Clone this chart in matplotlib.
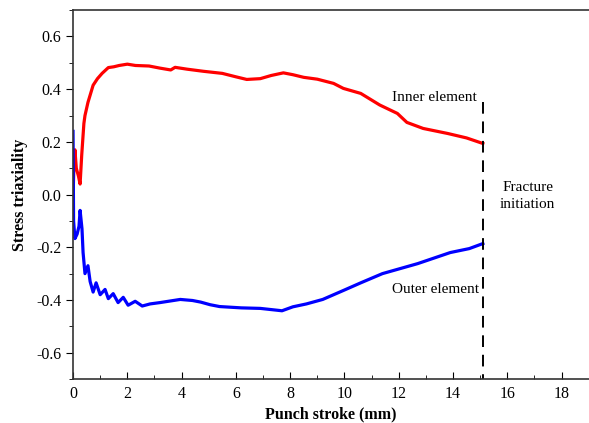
import matplotlib
matplotlib.use("Agg")
import matplotlib.pyplot as plt
from matplotlib.ticker import MultipleLocator

plt.rcParams["font.family"] = ["Liberation Serif", "DejaVu Serif"]

# stress triaxiality vs punch stroke
inner_x = [0.0, 0.03, 0.07, 0.12, 0.2, 0.26, 0.32, 0.4, 0.44, 0.55, 0.74, 0.9,
           1.07, 1.3, 1.5, 1.7, 2.0, 2.3, 2.8, 3.2, 3.6, 3.76, 4.2, 4.8, 5.5,
           6.0, 6.4, 6.9, 7.3, 7.75, 8.1, 8.5, 9.0, 9.6, 9.96, 10.6, 11.3,
           11.95, 12.3, 12.9, 13.8, 14.5, 15.1]
inner_y = [-0.01, 0.1, 0.17, 0.1, 0.07, 0.04, 0.15, 0.27, 0.30, 0.35, 0.415, 0.44,
           0.46, 0.482, 0.485, 0.49, 0.495, 0.49, 0.488, 0.48, 0.473, 0.483, 0.476,
           0.468, 0.46, 0.447, 0.437, 0.44, 0.452, 0.462, 0.455, 0.445, 0.438,
           0.422, 0.403, 0.384, 0.34, 0.308, 0.274, 0.251, 0.232, 0.215, 0.194]

outer_x = [0.0, 0.02, 0.07, 0.15, 0.22, 0.26, 0.33, 0.37, 0.44, 0.55, 0.63, 0.74,
           0.85, 1.0, 1.18, 1.3, 1.48, 1.66, 1.85, 2.03, 2.29, 2.55, 2.84, 3.2,
           3.95, 4.4, 4.7, 5.05, 5.4, 6.2, 6.9, 7.7, 8.1, 8.6, 9.2, 9.96, 10.6,
           11.4, 12.7, 13.9, 14.6, 15.1]
outer_y = [0.24, -0.1, -0.167, -0.15, -0.12, -0.06, -0.13, -0.22, -0.30, -0.27,
           -0.33, -0.37, -0.335, -0.38, -0.36, -0.395, -0.376, -0.41, -0.39, -0.42,
           -0.405, -0.423, -0.415, -0.41, -0.398, -0.402, -0.408, -0.418, -0.425,
           -0.43, -0.432, -0.441, -0.426, -0.415, -0.398, -0.364, -0.335, -0.30,
           -0.262, -0.22, -0.205, -0.186]

fracture_x = 15.1

fig = plt.figure(figsize=(5.89, 4.23), dpi=100)
ax = fig.add_axes([0.124, 0.104, 0.8755, 0.872])

ax.plot(inner_x, inner_y, color="#ff0000", lw=2.3)
ax.plot(outer_x, outer_y, color="#0000ff", lw=2.3)
ax.plot([fracture_x, fracture_x], [0.35, -0.7], color="black", lw=1.4,
        dashes=(6, 4))

ax.text(11.75, 0.37, "Inner element", fontsize=11, va="center", ha="left")
ax.text(11.75, -0.36, "Outer element", fontsize=11, va="center", ha="left")
ax.text(16.75, -0.005, "Fracture\ninitiation", fontsize=11, va="center",
        ha="center", linespacing=1.45)

ax.set_xlim(0, 19)
ax.set_ylim(-0.7, 0.7)
ax.xaxis.set_major_locator(MultipleLocator(2))
ax.xaxis.set_minor_locator(MultipleLocator(1))
ax.yaxis.set_major_locator(MultipleLocator(0.2))
ax.yaxis.set_minor_locator(MultipleLocator(0.1))
ax.set_xticks(range(0, 19, 2))
ax.set_yticks([-0.6, -0.4, -0.2, 0.0, 0.2, 0.4, 0.6])
ax.set_yticklabels(["-0.6", "-0.4", "-0.2", "0.0", "0.2", "0.4", "0.6"])

ax.tick_params(axis="x", which="both", direction="in", labelsize=11.5, pad=5)
ax.tick_params(axis="x", which="major", length=5)
ax.tick_params(axis="x", which="minor", length=3)
ax.tick_params(axis="y", which="both", direction="out", labelsize=11.5)
ax.tick_params(axis="y", which="major", length=5)
ax.tick_params(axis="y", which="minor", length=3)
ax.spines["right"].set_visible(False)
for s in ["left", "bottom", "top"]:
    ax.spines[s].set_linewidth(1.2)
    ax.spines[s].set_color("#333333")

ax.set_xlabel("Punch stroke (mm)", fontsize=11.5, fontweight="bold", labelpad=3)
ax.set_ylabel("Stress triaxiality", fontsize=11.5, fontweight="bold", labelpad=6)

fig.savefig("out.png", dpi=100)
